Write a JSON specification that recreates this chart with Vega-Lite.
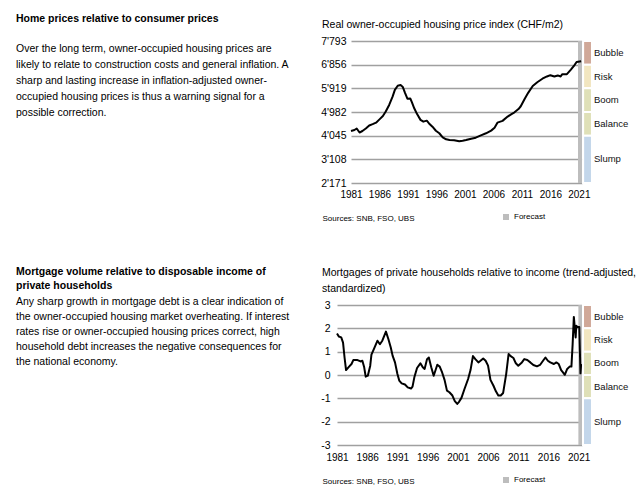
{
  "$schema": "https://vega.github.io/schema/vega-lite/v6.json",
  "padding": {"left": 16, "top": 13, "right": 0, "bottom": 0},
  "config": {
    "font": "Liberation Sans",
    "view": {"stroke": null},
    "locale": {"number": {"decimal": ".", "thousands": "'", "grouping": [3], "currency": ["", ""], "minus": "-"}},
    "axis": {"domain": false, "ticks": false, "labelFont": "Liberation Sans", "labelFontSize": 10.5, "labelColor": "#000", "labelOverlap": false, "gridColor": "#a0a0a0", "gridWidth": 1.5},
    "axisX": {"labelFontSize": 10, "labelFlush": false},
    "title": {"anchor": "start", "frame": "group", "fontSize": 10.5, "fontWeight": "normal", "color": "#000", "font": "Liberation Sans"},
    "legend": {"labelFont": "Liberation Sans"}
  },
  "resolve": {"legend": {"color": "independent"}, "scale": {"color": "independent"}},
  "columns": 2,
  "align": "none",
  "spacing": {"row": 45, "column": 9},
  "concat": [
    {
      "width": 295,
      "height": {"step": 16},
      "title": {"text": "Home prices relative to consumer prices", "fontWeight": "bold", "fontSize": 10.5, "offset": 17},
      "data": {"values": [
        {"n": 1, "line": "Over the long term, owner-occupied housing prices are"},
        {"n": 2, "line": "likely to relate to construction costs and general inflation. A"},
        {"n": 3, "line": "sharp and lasting increase in inflation-adjusted owner-"},
        {"n": 4, "line": "occupied housing prices is thus a warning signal for a"},
        {"n": 5, "line": "possible correction."}
      ]},
      "mark": {"type": "text", "align": "left", "baseline": "middle", "fontSize": 10.5, "color": "#000"},
      "encoding": {
        "y": {"field": "n", "type": "ordinal", "axis": null},
        "x": {"datum": 0, "type": "quantitative", "scale": {"domain": [0, 1]}, "axis": null},
        "text": {"field": "line"}
      }
    },
    {
      "width": 231,
      "height": 142,
      "title": {"text": "Real owner-occupied housing price index (CHF/m2)", "dx": -29, "offset": 6},
      "layer": [
        {
          "data": {"values": [{"year": 2020.85, "year2": 2021.55}]},
          "mark": {"type": "rect"},
          "encoding": {
            "x": {"field": "year", "type": "quantitative", "scale": {"domain": [1981, 2021.55], "nice": false, "zero": false}},
            "x2": {"field": "year2"},
            "color": {"datum": "Forecast", "type": "nominal", "scale": {"range": ["#bdbdbd"]},
              "legend": {"orient": "none", "legendX": 151, "legendY": 172, "title": null, "symbolType": "square", "symbolSize": 36, "symbolStrokeWidth": 0, "labelFontSize": 8, "labelOffset": 4, "padding": 0}}
          }
        },
        {
          "data": {"values": [
            {"year": 1981.0, "value": 4230}, {"year": 1981.6, "value": 4270}, {"year": 1982.0, "value": 4330}, {"year": 1982.5, "value": 4170},
            {"year": 1983.0, "value": 4230}, {"year": 1983.6, "value": 4330}, {"year": 1984.2, "value": 4450}, {"year": 1984.8, "value": 4500},
            {"year": 1985.4, "value": 4560}, {"year": 1986.0, "value": 4690}, {"year": 1986.6, "value": 4820}, {"year": 1987.1, "value": 5000},
            {"year": 1987.7, "value": 5260}, {"year": 1988.3, "value": 5590}, {"year": 1988.7, "value": 5860}, {"year": 1989.2, "value": 6020},
            {"year": 1989.7, "value": 6050}, {"year": 1990.1, "value": 5970}, {"year": 1990.5, "value": 5730}, {"year": 1990.9, "value": 5510},
            {"year": 1991.4, "value": 5520}, {"year": 1991.7, "value": 5360}, {"year": 1992.1, "value": 5130}, {"year": 1992.6, "value": 4900},
            {"year": 1993.2, "value": 4670}, {"year": 1993.7, "value": 4600}, {"year": 1994.3, "value": 4640}, {"year": 1994.7, "value": 4530},
            {"year": 1995.3, "value": 4400}, {"year": 1995.9, "value": 4240}, {"year": 1996.5, "value": 4140}, {"year": 1997.1, "value": 3980},
            {"year": 1997.7, "value": 3900}, {"year": 1998.3, "value": 3870}, {"year": 1999.1, "value": 3860}, {"year": 2000.0, "value": 3820},
            {"year": 2000.6, "value": 3840}, {"year": 2001.2, "value": 3870}, {"year": 2002.1, "value": 3925}, {"year": 2002.9, "value": 3965},
            {"year": 2003.8, "value": 4058}, {"year": 2004.7, "value": 4140}, {"year": 2005.6, "value": 4245}, {"year": 2006.2, "value": 4360},
            {"year": 2006.7, "value": 4560}, {"year": 2007.6, "value": 4630}, {"year": 2008.5, "value": 4800}, {"year": 2009.1, "value": 4890},
            {"year": 2009.7, "value": 4970}, {"year": 2010.4, "value": 5100}, {"year": 2010.8, "value": 5210}, {"year": 2011.5, "value": 5510},
            {"year": 2012.1, "value": 5740}, {"year": 2012.9, "value": 6010}, {"year": 2013.7, "value": 6160}, {"year": 2014.6, "value": 6300},
            {"year": 2015.4, "value": 6390}, {"year": 2016.0, "value": 6440}, {"year": 2016.7, "value": 6390}, {"year": 2017.3, "value": 6430},
            {"year": 2017.8, "value": 6390}, {"year": 2018.1, "value": 6480}, {"year": 2018.9, "value": 6480}, {"year": 2019.6, "value": 6660},
            {"year": 2020.2, "value": 6830}, {"year": 2020.6, "value": 6960}, {"year": 2021.4, "value": 6990}
          ]},
          "mark": {"type": "line", "color": "#000", "strokeWidth": 2, "strokeJoin": "round"},
          "encoding": {
            "x": {"field": "year", "type": "quantitative",
              "axis": {"values": [1981, 1986, 1991, 1996, 2001, 2006, 2011, 2016, 2021], "tickCount": 30, "format": "d", "grid": false, "labelPadding": 6, "labelFlush": false,
                "title": "Sources: SNB, FSO, UBS", "titleFontSize": 8, "titleFontWeight": "normal", "titleX": -29, "titleY": 35, "titleAlign": "left", "titleBaseline": "middle", "titleAnchor": "start"}},
            "y": {"field": "value", "type": "quantitative", "title": null, "scale": {"domain": [2171, 7793], "nice": false, "zero": false},
              "axis": {"values": [2171, 3108, 4045, 4982, 5919, 6856, 7793], "tickCount": 30, "format": ",d", "labelPadding": 5, "grid": true}}
          }
        },
        {
          "data": {"values": [
            {"zone": "Bubble", "lo": 6856, "hi": 7793},
            {"zone": "Risk", "lo": 5919, "hi": 6856},
            {"zone": "Boom", "lo": 4982, "hi": 5919},
            {"zone": "Balance", "lo": 4045, "hi": 4982},
            {"zone": "Slump", "lo": 2171, "hi": 4045}
          ]},
          "mark": {"type": "rect", "stroke": "#fff", "strokeWidth": 2},
          "encoding": {
            "x": {"datum": 2021.75, "type": "quantitative"},
            "x2": {"datum": 2023.3},
            "y": {"field": "lo", "type": "quantitative", "title": null},
            "y2": {"field": "hi"},
            "fill": {"field": "zone", "type": "nominal", "legend": null,
              "scale": {"domain": ["Bubble", "Risk", "Boom", "Balance", "Slump"], "range": ["#d0a898", "#f2e6c0", "#dfe0b8", "#dfe0b8", "#c3d6ea"]}}
          }
        },
        {
          "data": {"values": [
            {"zone": "Bubble", "lo": 6856, "hi": 7793},
            {"zone": "Risk", "lo": 5919, "hi": 6856},
            {"zone": "Boom", "lo": 4982, "hi": 5919},
            {"zone": "Balance", "lo": 4045, "hi": 4982},
            {"zone": "Slump", "lo": 2171, "hi": 4045}
          ]},
          "transform": [{"fold": ["lo", "hi"], "as": ["k", "bound"]}],
          "mark": {"type": "text", "align": "left", "baseline": "middle", "fontSize": 9.5, "color": "#111"},
          "encoding": {
            "x": {"datum": 2023.65, "type": "quantitative"},
            "y": {"field": "bound", "aggregate": "mean", "type": "quantitative", "title": null},
            "text": {"field": "zone"}
          }
        }
      ]
    },
    {
      "width": 295,
      "height": {"step": 15},
      "title": {"text": ["Mortgage volume relative to disposable income of", "private households"], "fontWeight": "bold", "fontSize": 10.5, "lineHeight": 13.5, "offset": 3},
      "data": {"values": [
        {"n": 1, "line": "Any sharp growth in mortgage debt is a clear indication of"},
        {"n": 2, "line": "the owner-occupied housing market overheating. If interest"},
        {"n": 3, "line": "rates rise or owner-occupied housing prices correct, high"},
        {"n": 4, "line": "household debt increases the negative consequences for"},
        {"n": 5, "line": "the national economy."}
      ]},
      "mark": {"type": "text", "align": "left", "baseline": "middle", "fontSize": 10.5, "color": "#000"},
      "encoding": {
        "y": {"field": "n", "type": "ordinal", "axis": null},
        "x": {"datum": 0, "type": "quantitative", "scale": {"domain": [0, 1]}, "axis": null},
        "text": {"field": "line"}
      }
    },
    {
      "width": 245,
      "height": 140,
      "title": {"text": ["Mortgages of private households relative to income (trend-adjusted,", "standardized)"], "dx": -15, "offset": 6, "lineHeight": 16},
      "layer": [
        {
          "data": {"values": [{"year": 2020.95, "year2": 2021.55}]},
          "mark": {"type": "rect"},
          "encoding": {
            "x": {"field": "year", "type": "quantitative", "scale": {"domain": [1981, 2021.55], "nice": false, "zero": false}},
            "x2": {"field": "year2"},
            "color": {"datum": "Forecast", "type": "nominal", "scale": {"range": ["#bdbdbd"]},
              "legend": {"orient": "none", "legendX": 165, "legendY": 171, "title": null, "symbolType": "square", "symbolSize": 36, "symbolStrokeWidth": 0, "labelFontSize": 8, "labelOffset": 4, "padding": 0}}
          }
        },
        {
          "data": {"values": [
            {"year": 1981.0, "value": 1.78}, {"year": 1981.3, "value": 1.65}, {"year": 1981.7, "value": 1.61}, {"year": 1982.0, "value": 1.39},
            {"year": 1982.25, "value": 0.75}, {"year": 1982.5, "value": 0.21}, {"year": 1983.0, "value": 0.36}, {"year": 1983.4, "value": 0.47},
            {"year": 1983.7, "value": 0.64}, {"year": 1984.4, "value": 0.64}, {"year": 1984.9, "value": 0.58}, {"year": 1985.2, "value": 0.61},
            {"year": 1985.5, "value": 0.33}, {"year": 1985.75, "value": -0.07}, {"year": 1986.1, "value": -0.03}, {"year": 1986.5, "value": 0.40},
            {"year": 1986.7, "value": 0.87}, {"year": 1987.1, "value": 1.11}, {"year": 1987.7, "value": 1.47}, {"year": 1988.1, "value": 1.32},
            {"year": 1988.5, "value": 1.47}, {"year": 1989.1, "value": 1.86}, {"year": 1989.5, "value": 1.54}, {"year": 1989.9, "value": 1.18},
            {"year": 1990.2, "value": 0.83}, {"year": 1990.6, "value": 0.54}, {"year": 1991.0, "value": 0.04}, {"year": 1991.3, "value": -0.24},
            {"year": 1991.7, "value": -0.36}, {"year": 1992.25, "value": -0.41}, {"year": 1992.7, "value": -0.53}, {"year": 1993.25, "value": -0.58},
            {"year": 1993.5, "value": -0.50}, {"year": 1993.8, "value": -0.10}, {"year": 1994.25, "value": 0.30}, {"year": 1994.8, "value": 0.50},
            {"year": 1995.2, "value": 0.33}, {"year": 1995.5, "value": 0.26}, {"year": 1995.9, "value": 0.68}, {"year": 1996.2, "value": 0.75},
            {"year": 1996.6, "value": 0.33}, {"year": 1997.0, "value": -0.03}, {"year": 1997.25, "value": 0.16}, {"year": 1997.6, "value": 0.44},
            {"year": 1998.0, "value": 0.36}, {"year": 1998.4, "value": 0.11}, {"year": 1998.8, "value": -0.21}, {"year": 1999.2, "value": -0.67},
            {"year": 1999.6, "value": -0.74}, {"year": 2000.1, "value": -0.88}, {"year": 2000.5, "value": -1.12}, {"year": 2000.9, "value": -1.24},
            {"year": 2001.2, "value": -1.15}, {"year": 2001.6, "value": -0.98}, {"year": 2002.1, "value": -0.60}, {"year": 2002.7, "value": -0.17},
            {"year": 2003.1, "value": 0.21}, {"year": 2003.5, "value": 0.81}, {"year": 2003.9, "value": 0.68}, {"year": 2004.4, "value": 0.54},
            {"year": 2004.75, "value": 0.61}, {"year": 2005.2, "value": 0.71}, {"year": 2005.6, "value": 0.61}, {"year": 2006.0, "value": 0.40},
            {"year": 2006.4, "value": -0.21}, {"year": 2006.9, "value": -0.46}, {"year": 2007.3, "value": -0.70}, {"year": 2007.7, "value": -0.88},
            {"year": 2008.1, "value": -0.88}, {"year": 2008.5, "value": -0.77}, {"year": 2009.0, "value": 0.04}, {"year": 2009.4, "value": 0.90},
            {"year": 2009.75, "value": 0.81}, {"year": 2010.2, "value": 0.73}, {"year": 2010.6, "value": 0.50}, {"year": 2011.0, "value": 0.40},
            {"year": 2011.6, "value": 0.54}, {"year": 2012.0, "value": 0.68}, {"year": 2012.5, "value": 0.64}, {"year": 2013.0, "value": 0.54},
            {"year": 2013.5, "value": 0.43}, {"year": 2014.1, "value": 0.37}, {"year": 2014.6, "value": 0.43}, {"year": 2015.1, "value": 0.61},
            {"year": 2015.5, "value": 0.75}, {"year": 2015.9, "value": 0.61}, {"year": 2016.3, "value": 0.54}, {"year": 2016.9, "value": 0.47},
            {"year": 2017.3, "value": 0.54}, {"year": 2017.7, "value": 0.47}, {"year": 2018.1, "value": 0.21}, {"year": 2018.4, "value": 0.11},
            {"year": 2018.7, "value": 0.01}, {"year": 2019.1, "value": 0.26}, {"year": 2019.5, "value": 0.36}, {"year": 2019.8, "value": 0.36},
            {"year": 2020.0, "value": 1.32}, {"year": 2020.2, "value": 2.49}, {"year": 2020.4, "value": 1.89}, {"year": 2020.5, "value": 1.61},
            {"year": 2020.6, "value": 2.11}, {"year": 2020.8, "value": 2.06}, {"year": 2021.1, "value": 2.06}, {"year": 2021.2, "value": 1.03},
            {"year": 2021.3, "value": 0.07}, {"year": 2021.4, "value": 0.44}, {"year": 2021.5, "value": 0.40}
          ]},
          "mark": {"type": "line", "color": "#000", "strokeWidth": 2, "strokeJoin": "round"},
          "encoding": {
            "x": {"field": "year", "type": "quantitative",
              "axis": {"values": [1981, 1986, 1991, 1996, 2001, 2006, 2011, 2016, 2021], "tickCount": 30, "format": "d", "grid": false, "labelPadding": 7, "labelFlush": false,
                "title": "Sources: SNB, FSO, UBS", "titleFontSize": 8, "titleFontWeight": "normal", "titleX": -15, "titleY": 36, "titleAlign": "left", "titleBaseline": "middle", "titleAnchor": "start"}},
            "y": {"field": "value", "type": "quantitative", "title": null, "scale": {"domain": [-3, 3], "nice": false, "zero": false},
              "axis": {"values": [-3, -2, -1, 0, 1, 2, 3], "tickCount": 30, "format": "d", "labelPadding": 7, "grid": true}}
          }
        },
        {
          "data": {"values": [
            {"zone": "Bubble", "lo": 2, "hi": 3},
            {"zone": "Risk", "lo": 1, "hi": 2},
            {"zone": "Boom", "lo": 0, "hi": 1},
            {"zone": "Balance", "lo": -1, "hi": 0},
            {"zone": "Slump", "lo": -3, "hi": -1}
          ]},
          "mark": {"type": "rect", "stroke": "#fff", "strokeWidth": 2},
          "encoding": {
            "x": {"datum": 2021.72, "type": "quantitative"},
            "x2": {"datum": 2023.2},
            "y": {"field": "lo", "type": "quantitative", "title": null},
            "y2": {"field": "hi"},
            "fill": {"field": "zone", "type": "nominal", "legend": null,
              "scale": {"domain": ["Bubble", "Risk", "Boom", "Balance", "Slump"], "range": ["#d0a898", "#f2e6c0", "#dfe0b8", "#dfe0b8", "#c3d6ea"]}}
          }
        },
        {
          "data": {"values": [
            {"zone": "Bubble", "lo": 2, "hi": 3},
            {"zone": "Risk", "lo": 1, "hi": 2},
            {"zone": "Boom", "lo": 0, "hi": 1},
            {"zone": "Balance", "lo": -1, "hi": 0},
            {"zone": "Slump", "lo": -3, "hi": -1}
          ]},
          "transform": [{"fold": ["lo", "hi"], "as": ["k", "bound"]}],
          "mark": {"type": "text", "align": "left", "baseline": "middle", "fontSize": 9.5, "color": "#111"},
          "encoding": {
            "x": {"datum": 2023.54, "type": "quantitative"},
            "y": {"field": "bound", "aggregate": "mean", "type": "quantitative", "title": null},
            "text": {"field": "zone"}
          }
        }
      ]
    }
  ]
}
